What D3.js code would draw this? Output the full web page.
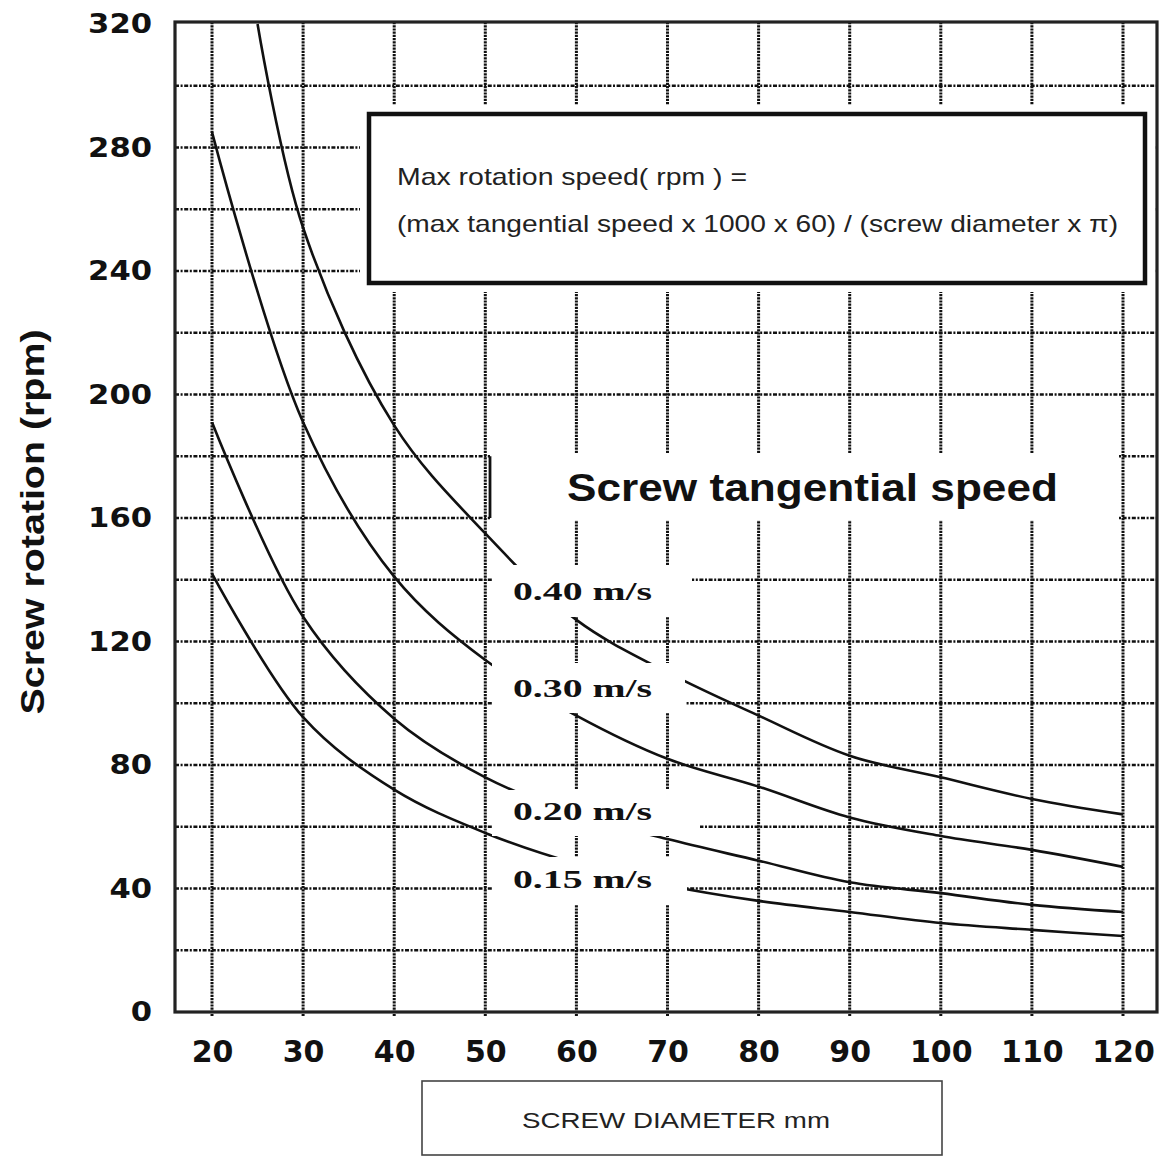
<!DOCTYPE html>
<html>
<head>
<meta charset="utf-8">
<script src="https://cdn.jsdelivr.net/npm/d3@7"></script>
<style>
  body { margin: 0; background: #fff; }
  svg { display: block; }
</style>
</head>
<body>
<svg id="chart"></svg>
<script>
// values
var diameters = [20, 30, 40, 50, 60, 70, 80, 90, 100, 110, 120];
var diameters040 = [25, 30, 40, 50, 60, 70, 80, 90, 100, 110, 120];
var rpm040 = [320, 254, 190, 155, 127, 110, 96, 83, 76, 69, 64];
var rpm030 = [285, 191, 141, 114, 96, 82, 73, 63, 57, 52.5, 47];
var rpm020 = [191, 128, 95, 76, 64, 56, 49, 42, 38.5, 34.7, 32.4];
var rpm015 = [142, 95.5, 72, 58, 48, 41, 36, 32.4, 28.8, 26.6, 24.6];
var speedLabels = ["0.40 m/s", "0.30 m/s", "0.20 m/s", "0.15 m/s"];
var xTicks = [20, 30, 40, 50, 60, 70, 80, 90, 100, 110, 120];
var yTicks = [0, 40, 80, 120, 160, 200, 240, 280, 320];
var yGrid = [20, 40, 60, 80, 100, 120, 140, 160, 180, 200, 220, 240, 260, 280, 300];
var formulaLines = [
    "Max rotation speed( rpm ) =",
    "(max tangential speed x 1000 x 60) / (screw diameter x \u03c0)"
];

var params = {
    width: 1162,
    height: 1157,
    frameLeft: 175,
    frameRight: 1157,
    frameTop: 22,
    frameBottom: 1012,
    gridColor: "#111",
    lineColor: "#111",
    tickFont: "'DejaVu Sans', sans-serif",
    sansFont: "'Liberation Sans', Arial, sans-serif",
    serifFont: "'Liberation Serif', 'Times New Roman', serif"
};

var series = [
    { name: speedLabels[0], xs: diameters040, ys: rpm040 },
    { name: speedLabels[1], xs: diameters, ys: rpm030 },
    { name: speedLabels[2], xs: diameters, ys: rpm020 },
    { name: speedLabels[3], xs: diameters, ys: rpm015 }
];

// white patches behind the speed labels (they cut curves and grid)
var labelBoxes = [
    { x0: 492, x1: 692, y0: 565, y1: 617, tx: 513, ty: 600, tw: 139 },
    { x0: 492, x1: 685, y0: 663, y1: 713, tx: 513, ty: 697, tw: 139 },
    { x0: 492, x1: 700, y0: 790, y1: 836, tx: 513, ty: 820, tw: 139 },
    { x0: 492, x1: 687, y0: 857, y1: 905, tx: 513, ty: 888, tw: 139 }
];

var svg = d3.select("#chart")
    .attr("width", params.width)
    .attr("height", params.height);

svg.append("rect")
    .attr("width", params.width)
    .attr("height", params.height)
    .attr("fill", "#fff");

var x = d3.scaleLinear().domain([20, 120]).range([212, 1123]);
var y = d3.scaleLinear().domain([0, 320]).range([params.frameBottom, 24]);

svg.append("clipPath").attr("id", "plot-clip")
    .append("rect")
    .attr("x", params.frameLeft)
    .attr("y", params.frameTop)
    .attr("width", params.frameRight - params.frameLeft)
    .attr("height", params.frameBottom - params.frameTop);

// grid
var grid = svg.append("g").attr("class", "grid");
grid.selectAll("line.v").data(xTicks).enter()
    .append("line")
    .attr("class", "v")
    .attr("x1", function(d) { return x(d); })
    .attr("x2", function(d) { return x(d); })
    .attr("y1", params.frameTop)
    .attr("y2", params.frameBottom + 4)
    .attr("stroke", params.gridColor)
    .attr("stroke-width", 3)
    .attr("stroke-dasharray", "2.2,1");
grid.selectAll("line.h").data(yGrid).enter()
    .append("line")
    .attr("class", "h")
    .attr("x1", params.frameLeft)
    .attr("x2", params.frameRight)
    .attr("y1", function(d) { return y(d); })
    .attr("y2", function(d) { return y(d); })
    .attr("stroke", params.gridColor)
    .attr("stroke-width", 2.7)
    .attr("stroke-dasharray", "4,1.6,2,1.6");

// curves
var line = d3.line()
    .x(function(d) { return x(d[0]); })
    .y(function(d) { return y(d[1]); })
    .curve(d3.curveCatmullRom.alpha(0.5));

svg.append("g")
    .attr("clip-path", "url(#plot-clip)")
    .selectAll("path").data(series).enter()
    .append("path")
    .attr("d", function(s) { return line(d3.zip(s.xs, s.ys)); })
    .attr("fill", "none")
    .attr("stroke", params.lineColor)
    .attr("stroke-width", 2.6);

// label patches and labels
var labels = svg.append("g").attr("class", "speed-labels");
labels.selectAll("rect").data(labelBoxes).enter()
    .append("rect")
    .attr("x", function(d) { return d.x0; })
    .attr("y", function(d) { return d.y0; })
    .attr("width", function(d) { return d.x1 - d.x0; })
    .attr("height", function(d) { return d.y1 - d.y0; })
    .attr("fill", "#fff");
labels.selectAll("text").data(labelBoxes).enter()
    .append("text")
    .attr("x", function(d) { return d.tx; })
    .attr("y", function(d) { return d.ty; })
    .attr("textLength", function(d) { return d.tw; })
    .attr("lengthAdjust", "spacingAndGlyphs")
    .attr("font-family", params.serifFont)
    .attr("font-weight", "bold")
    .attr("font-size", 26)
    .attr("fill", "#111")
    .text(function(d, i) { return speedLabels[i]; });

// "Screw tangential speed" patch
var tsBox = { x0: 490, x1: 1119, y0: y(180), y1: y(160) };
svg.append("rect")
    .attr("x", tsBox.x0)
    .attr("y", tsBox.y0 - 2.5)
    .attr("width", tsBox.x1 - tsBox.x0)
    .attr("height", tsBox.y1 - tsBox.y0 + 5)
    .attr("fill", "#fff");
svg.append("line")
    .attr("x1", tsBox.x0).attr("x2", tsBox.x0)
    .attr("y1", tsBox.y0).attr("y2", tsBox.y1)
    .attr("stroke", "#111")
    .attr("stroke-width", 2.8);
svg.append("text")
    .attr("x", 567)
    .attr("y", 501)
    .attr("textLength", 491)
    .attr("lengthAdjust", "spacingAndGlyphs")
    .attr("font-family", params.sansFont)
    .attr("font-weight", "bold")
    .attr("font-size", 38)
    .attr("fill", "#111")
    .text("Screw tangential speed");

// formula box
svg.append("rect")
    .attr("x", 360)
    .attr("y", 105)
    .attr("width", 1155 - 360)
    .attr("height", 292 - 105)
    .attr("fill", "#fff");
svg.append("rect")
    .attr("x", 369)
    .attr("y", 114)
    .attr("width", 1145 - 369)
    .attr("height", 283 - 114)
    .attr("fill", "#fff")
    .attr("stroke", "#111")
    .attr("stroke-width", 4.5);
svg.append("g").selectAll("text").data(formulaLines).enter()
    .append("text")
    .attr("x", 397)
    .attr("y", function(d, i) { return 185 + i * 47; })
    .attr("textLength", function(d, i) { return i === 0 ? 350 : 721; })
    .attr("lengthAdjust", "spacingAndGlyphs")
    .attr("font-family", params.sansFont)
    .attr("font-size", 24)
    .attr("fill", "#222")
    .text(function(d) { return d; });

// frame
svg.append("rect")
    .attr("x", params.frameLeft)
    .attr("y", params.frameTop)
    .attr("width", params.frameRight - params.frameLeft)
    .attr("height", params.frameBottom - params.frameTop)
    .attr("fill", "none")
    .attr("stroke", "#222")
    .attr("stroke-width", 3.2);

// axes (labels only)
var xAxis = svg.append("g")
    .attr("transform", "translate(0," + params.frameBottom + ")")
    .call(d3.axisBottom(x).tickValues(xTicks).tickSize(0).tickPadding(29));
xAxis.select(".domain").remove();
xAxis.selectAll("text")
    .attr("font-family", params.tickFont)
    .attr("font-weight", "bold")
    .attr("font-size", 30)
    .attr("fill", "#111");

var yAxis = svg.append("g")
    .attr("transform", "translate(" + params.frameLeft + ",0)")
    .call(d3.axisLeft(y).tickValues(yTicks).tickSize(0).tickPadding(23));
yAxis.select(".domain").remove();
yAxis.selectAll("text")
    .attr("font-family", params.tickFont)
    .attr("font-weight", "bold")
    .attr("font-size", 27)
    .attr("fill", "#111")
    .attr("textLength", function(d) { return String(d).length * 21.3; })
    .attr("lengthAdjust", "spacingAndGlyphs");

// axis titles
svg.append("text")
    .attr("transform", "translate(44," + 522 + ") rotate(-90)")
    .attr("text-anchor", "middle")
    .attr("textLength", 385)
    .attr("lengthAdjust", "spacingAndGlyphs")
    .attr("font-family", params.sansFont)
    .attr("font-weight", "bold")
    .attr("font-size", 34)
    .attr("fill", "#111")
    .text("Screw rotation (rpm)");

svg.append("rect")
    .attr("x", 422)
    .attr("y", 1081)
    .attr("width", 942 - 422)
    .attr("height", 1155 - 1081)
    .attr("fill", "#fff")
    .attr("stroke", "#444")
    .attr("stroke-width", 1.6);
svg.append("text")
    .attr("x", 676)
    .attr("y", 1128)
    .attr("text-anchor", "middle")
    .attr("textLength", 308)
    .attr("lengthAdjust", "spacingAndGlyphs")
    .attr("font-family", params.sansFont)
    .attr("font-size", 22)
    .attr("fill", "#222")
    .text("SCREW DIAMETER mm");
</script>
</body>
</html>
